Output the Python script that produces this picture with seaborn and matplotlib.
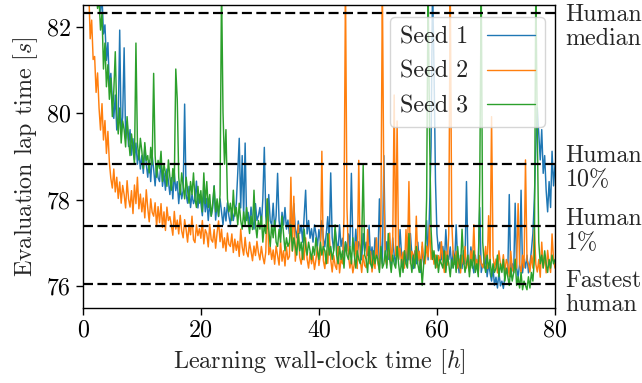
import numpy as np
import pandas as pd
import matplotlib
matplotlib.use("Agg")
import matplotlib.pyplot as plt
import matplotlib.transforms as mtransforms
import seaborn as sns

# ---------------- data ----------------
seed_names = ["Seed 1", "Seed 2", "Seed 3"]
seed_colors = ["#1f77b4", "#ff7f0e", "#2ca02c"]
sample_step_h = 0.25
seed_start_h = [2.5, 1.0, 2.0]

seed1_lap = [83.00, 82.61,
 82.32, 82.71, 81.83, 82.04, 81.22, 81.63, 80.61, 80.92, 80.31, 79.88, 80.42, 79.61,
 79.83, 81.92, 79.52, 79.91, 81.51, 79.42, 79.81, 79.23, 79.62, 79.03, 79.41, 78.92,
 79.31, 78.82, 79.13, 78.71, 79.02, 78.61, 79.22, 78.83, 78.52, 78.91, 78.42, 79.03,
 78.71, 78.32, 78.83, 78.51, 78.42, 78.92, 78.31, 78.62, 78.22, 78.71, 78.43, 78.12,
 78.51, 78.02, 78.63, 78.21, 78.42, 77.91, 78.33, 78.02, 78.21, 80.21, 78.12, 77.92,
 78.31, 77.82, 78.13, 77.91, 78.02, 78.43, 77.81, 78.12, 77.92, 77.63, 78.21, 77.72,
 78.03, 77.52, 77.91, 77.62, 77.81, 78.32, 77.53, 77.92, 77.61, 78.02, 77.71, 77.42,
 77.82, 77.51, 77.93, 77.62, 77.43, 77.81, 77.52, 77.72, 77.91, 78.62, 79.42, 77.81,
 79.02, 77.62, 79.31, 77.52, 77.71, 77.42, 77.83, 77.51, 77.32, 77.91, 77.52, 77.63,
 77.82, 77.41, 78.02, 79.21, 77.62, 77.33, 78.12, 77.51, 77.42, 77.92, 77.31, 77.63,
 78.61, 77.52, 77.22, 77.71, 77.41, 77.82, 77.32, 77.53, 77.21, 77.62, 77.43, 77.91,
 77.32, 77.12, 77.51, 77.22, 77.41, 77.02, 77.63, 78.22, 77.21, 77.52, 77.11, 77.33,
 77.02, 77.42, 77.21, 76.92, 77.31, 77.03, 77.52, 77.12, 76.91, 77.22, 77.61, 77.02,
 78.62, 77.12, 76.83, 77.31, 77.02, 76.81, 77.42, 76.92, 77.11, 76.72, 77.03, 76.82,
 77.21, 76.91, 78.61, 77.02, 76.81, 77.32, 76.72, 77.03, 76.92, 76.61, 77.22, 76.81,
 77.02, 76.71, 77.41, 76.62, 76.91, 76.52, 77.12, 76.82, 76.63, 78.02, 76.91, 76.52,
 79.02, 76.71, 77.03, 76.62, 76.81, 76.42, 77.12, 76.72, 76.51, 76.92, 76.62, 77.31,
 76.71, 76.42, 76.82, 76.52, 76.91, 76.61, 77.22, 76.72, 76.41, 76.82, 76.52, 77.02,
 76.61, 76.32, 76.92, 76.51, 76.72, 77.52, 76.61, 77.82, 79.22, 83.00, 81.02, 78.42,
 77.21, 76.82, 77.02, 76.61, 76.92, 76.52, 77.31, 76.72, 76.62, 76.91, 76.42, 76.82,
 76.51, 77.42, 76.62, 76.31, 76.72, 76.41, 76.82, 76.52, 78.42, 76.61, 76.42, 76.91,
 76.52, 76.31, 76.72, 76.42, 76.62, 77.82, 76.32, 76.51, 76.42, 76.71, 76.22, 76.52,
 76.31, 76.12, 76.42, 76.02, 76.21, 75.96, 76.32, 76.01, 76.12, 75.95, 76.22, 76.41,
 76.31, 78.12, 76.22, 76.52, 76.31, 77.92, 76.42, 76.21, 76.52, 78.22, 76.31, 76.62,
 76.42, 76.72, 76.31, 76.52, 76.82, 77.22, 78.02, 79.22, 80.12, 79.52, 78.92, 79.62,
 78.61, 79.02, 78.22, 77.72, 78.42, 77.82, 79.12, 78.32, 78.81]

seed2_lap = [82.90, 81.72, 82.15, 81.24, 81.31, 80.48, 80.93, 80.12, 79.61, 80.22, 79.38, 79.83,
 79.07, 79.58, 78.86, 78.49, 78.27, 78.71, 78.18, 78.52, 78.03, 78.41, 77.92, 78.33,
 78.12, 77.81, 78.44, 78.02, 77.83, 78.21, 77.68, 78.34, 77.91, 78.52, 77.79, 78.13,
 77.72, 78.04, 77.58, 78.23, 77.81, 77.49, 78.02, 77.71, 77.62, 77.93, 77.38, 77.84,
 77.47, 77.91, 77.36, 77.72, 77.29, 77.83, 77.52, 77.61, 77.41, 77.18, 77.73, 77.32,
 77.53, 77.21, 77.64, 77.28, 77.12, 77.54, 77.31, 77.02, 77.43, 77.19, 77.62, 77.08,
 77.01, 77.42, 77.17, 77.33, 77.11, 77.52, 76.98, 77.31, 77.22, 76.91, 77.43, 77.08,
 77.02, 77.31, 76.88, 77.24, 77.51, 77.03, 77.32, 76.89, 77.12, 76.81, 77.23, 76.97,
 76.92, 77.21, 76.78, 77.09, 76.83, 77.04, 76.69, 77.32, 76.91, 76.72, 77.13, 76.79,
 76.68, 77.02, 76.81, 76.59, 76.93, 76.71, 77.04, 76.78, 76.61, 76.92, 76.68, 76.52,
 76.79, 78.02, 76.73, 76.91, 76.62, 76.84, 76.51, 76.93, 76.71, 76.49, 77.03, 76.58,
 76.82, 76.47, 76.91, 76.62, 76.69, 78.52, 76.81, 78.08, 76.58, 76.93, 77.42, 76.67,
 76.51, 76.83, 76.61, 77.12, 76.63, 76.42, 76.78, 76.52, 76.71, 76.39, 76.62, 76.91,
 76.48, 76.73, 79.12, 76.59, 76.41, 76.82, 76.53, 77.21, 76.62, 76.33, 76.71, 76.48,
 76.39, 76.92, 76.31, 76.63, 76.52, 77.61, 83.00, 77.82, 76.71, 76.42, 76.63, 76.31,
 76.52, 77.03, 76.41, 78.91, 76.61, 76.32, 76.72, 76.48, 76.43, 77.31, 76.52, 76.81,
 76.33, 76.62, 76.41, 77.12, 76.53, 76.38, 77.52, 83.00, 78.21, 76.61, 76.49, 76.82,
 77.23, 76.58, 76.91, 80.42, 76.71, 79.82, 76.62, 76.88, 76.51, 76.79, 76.42, 77.31,
 76.63, 78.42, 76.52, 76.81, 76.72, 76.48, 77.62, 76.59, 76.81, 76.42, 77.02, 76.61,
 76.52, 76.93, 76.68, 77.41, 76.62, 76.83, 76.51, 76.72, 76.43, 76.71, 76.52, 77.03,
 76.61, 76.32, 76.81, 76.49, 77.22, 83.00, 77.51, 76.73, 76.52, 76.81, 76.42, 76.63,
 76.31, 76.72, 76.51, 76.92, 76.42, 76.61, 76.33, 76.82, 76.51, 77.42, 76.41, 76.62,
 76.32, 76.71, 76.52, 76.43, 76.61, 76.92, 76.41, 77.63, 76.52, 79.92, 76.71, 76.42,
 76.63, 76.31, 76.82, 76.51, 76.42, 76.73, 76.31, 76.62, 76.51, 76.22, 76.81, 76.41,
 76.32, 76.63, 76.42, 77.91, 76.52, 76.31, 76.72, 76.43, 78.92, 76.61, 76.52, 76.33,
 76.71, 76.42, 77.32, 76.51, 76.33, 76.62, 76.21, 77.02, 76.43, 76.72, 76.31, 76.83,
 76.52, 76.32, 77.21, 76.61, 76.42]

seed3_lap = [83.00, 82.81, 82.42, 82.63, 81.92, 82.31, 81.02, 81.62, 80.61, 81.12, 80.32, 80.81,
 79.92, 80.52, 81.42, 80.02, 79.52, 80.12, 79.31, 79.82, 79.62, 79.22, 79.92, 79.41,
 79.02, 79.52, 79.21, 78.82, 81.62, 79.31, 78.92, 79.42, 79.12, 78.72, 79.32, 78.91,
 79.02, 78.62, 79.21, 78.81, 80.92, 79.02, 78.52, 78.91, 78.72, 79.12, 78.42, 78.82,
 78.62, 78.31, 78.92, 78.52, 78.22, 78.72, 78.42, 81.02, 80.32, 78.52, 78.12, 78.62,
 78.31, 78.02, 78.52, 78.21, 77.92, 78.42, 78.12, 78.62, 78.02, 77.82, 78.31, 77.92,
 78.21, 77.72, 78.62, 77.91, 78.42, 77.82, 78.12, 77.62, 77.91, 78.32, 77.72, 78.02,
 77.62, 78.12, 83.00, 80.02, 78.82, 79.62, 78.02, 77.72, 77.92, 77.52, 78.22, 77.62,
 77.82, 77.42, 77.92, 77.52, 77.32, 77.72, 77.42, 77.82, 77.52, 77.22, 77.62, 77.31,
 78.22, 77.42, 77.12, 77.52, 77.32, 77.62, 77.02, 77.42, 77.22, 78.02, 77.32, 76.92,
 77.42, 77.12, 77.52, 77.02, 76.92, 77.32, 77.02, 77.62, 77.22, 76.82, 77.12, 76.92,
 77.02, 77.42, 76.82, 77.12, 76.92, 76.72, 77.22, 76.82, 77.02, 76.62, 77.32, 76.92,
 76.72, 77.02, 76.82, 76.62, 76.92, 76.72, 77.12, 76.82, 76.62, 77.02, 76.72, 76.92,
 76.82, 76.52, 77.22, 76.72, 76.92, 76.62, 76.82, 77.42, 76.72, 76.52, 76.92, 76.62,
 76.82, 76.42, 77.02, 76.72, 76.62, 76.92, 76.52, 77.12, 76.72, 76.42, 76.82, 76.62,
 76.52, 77.02, 78.82, 76.72, 76.62, 76.32, 76.92, 76.52, 76.42, 76.82, 76.52, 76.72,
 76.62, 76.32, 76.92, 76.42, 76.52, 76.82, 76.42, 77.22, 76.62, 76.32, 76.72, 76.52,
 76.42, 76.92, 76.52, 76.22, 76.62, 76.32, 76.82, 76.52, 76.42, 77.22, 76.62, 76.32,
 76.72, 76.42, 76.92, 76.52, 76.32, 76.62, 76.02, 76.52, 76.72, 78.02, 83.00, 79.52,
 77.32, 76.62, 76.82, 76.42, 76.72, 76.32, 76.62, 76.52, 76.42, 76.82, 76.32, 76.72,
 76.52, 76.22, 76.62, 76.42, 76.72, 76.32, 76.92, 76.52, 76.42, 77.32, 76.62, 76.32,
 76.52, 76.72, 76.22, 76.62, 76.42, 76.82, 76.32, 76.52, 76.22, 78.42, 83.00, 77.02,
 76.52, 76.32, 76.72, 76.42, 76.62, 76.22, 76.52, 76.32, 76.42, 76.72, 76.22, 76.52,
 76.32, 76.62, 76.12, 76.42, 76.22, 76.02, 76.42, 76.12, 76.32, 76.62, 76.02, 76.22,
 75.96, 76.32, 75.92, 76.12, 76.02, 75.92, 76.22, 75.96, 76.32, 76.12, 76.62, 83.00,
 79.52, 77.02, 76.52, 76.72, 76.42, 76.82, 76.52, 76.32, 76.62, 76.42, 76.72, 76.52,
 76.62]

ref_values = [82.32, 78.82, 77.39, 76.06]
ref_labels = ["Human\nmedian", "Human\n10%", "Human\n1%", "Fastest\nhuman"]
ref_label_y = [82.0, 78.74, 77.28, 75.85]

x_ticks = [0, 20, 40, 60, 80]
y_ticks = [76, 78, 80, 82]

# ---------------- build long-form table ----------------
frames = []
for name, start, lap in zip(seed_names, seed_start_h, [seed1_lap, seed2_lap, seed3_lap]):
    hours = start + sample_step_h * np.arange(len(lap))
    frames.append(pd.DataFrame({"hours": hours, "lap": lap, "seed": name}))
df = pd.concat(frames, ignore_index=True)

# ---------------- style ----------------
sns.set_style("ticks")
plt.rcParams["font.family"] = ["serif"]
plt.rcParams["font.serif"] = ["cmr10", "DejaVu Serif"]
plt.rcParams["mathtext.fontset"] = "cm"
plt.rcParams["axes.formatter.use_mathtext"] = True
plt.rcParams["axes.unicode_minus"] = False
FS = 17.3

fig = plt.figure(figsize=(6.42, 3.83), dpi=100)
ax = fig.add_axes([0.129, 0.196, 0.7355, 0.791])

sns.lineplot(data=df, x="hours", y="lap", hue="seed", hue_order=seed_names,
             palette=seed_colors, linewidth=1.05, estimator=None, sort=False, ax=ax)

for v in ref_values:
    ax.axhline(v, color="black", linewidth=1.6, linestyle=(0, (4.5, 2.0)), zorder=5)

ax.set_xlim(0, 80)
ax.set_ylim(75.5, 82.5)
ax.set_xticks(x_ticks)
ax.set_yticks(y_ticks)
ax.set_xticklabels([str(t) for t in x_ticks], fontsize=FS)
ax.set_yticklabels([str(t) for t in y_ticks], fontsize=FS)
ax.tick_params(direction="out", length=5, width=1.0, colors="black")
for s in ax.spines.values():
    s.set_visible(True)
    s.set_linewidth(1.0)
    s.set_color("black")

ax.set_xlabel("Learning wall-clock time [$h$]", fontsize=FS, labelpad=4)
ax.set_ylabel("Evaluation lap time [$s$]", fontsize=FS, labelpad=5)

trans = mtransforms.blended_transform_factory(ax.transAxes, ax.transData)
for lab, yv in zip(ref_labels, ref_label_y):
    ax.text(1.022, yv, lab, transform=trans, ha="left", va="center",
            fontsize=FS, linespacing=1.1, clip_on=False)

handles, labels = ax.get_legend_handles_labels()
for h in handles:
    h.set_linewidth(1.0)
leg = ax.legend(handles, labels, loc="upper right", bbox_to_anchor=(0.979, 0.96),
                borderaxespad=0.0, markerfirst=False, fontsize=FS, handlelength=2.0,
                framealpha=0.8, fancybox=True)
leg.set_zorder(10)

fig.savefig("out.png", dpi=100)
